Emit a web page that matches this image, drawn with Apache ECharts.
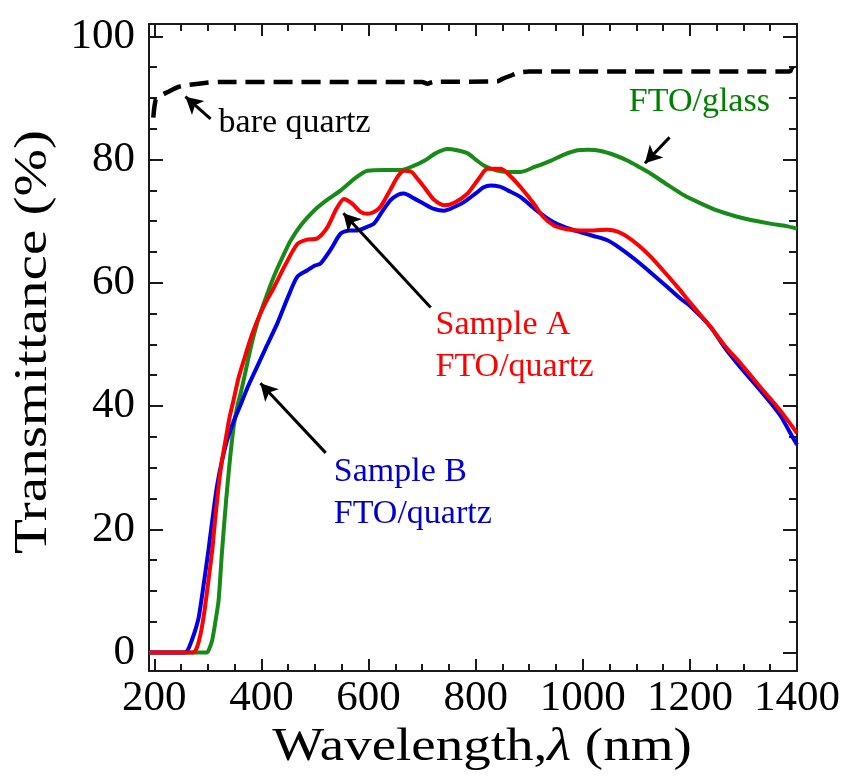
<!DOCTYPE html>
<html><head><meta charset="utf-8">
<script src="https://cdn.jsdelivr.net/npm/echarts@6/dist/echarts.min.js"></script>
<style>html,body{margin:0;padding:0;background:#fff}#c{width:846px;height:778px}</style>
</head><body><div id="c"></div>
<script>
// ---- tick values ----
const xTicksMajor = [200, 400, 600, 800, 1000, 1200, 1400];
const xTicksMinor = [250, 300, 350, 450, 500, 550, 650, 700, 750, 850, 900, 950, 1050, 1100, 1150, 1250, 1300, 1350];
const yTicksMajor = [0, 20, 40, 60, 80, 100];
const yTicksMinor = [5, 10, 15, 25, 30, 35, 45, 50, 55, 65, 70, 75, 85, 90, 95];

// ---- bare quartz (black dashed) ----
const quartzX = [198, 200, 203, 210, 226, 245, 261, 290, 320, 700, 710, 720, 840, 850, 865, 880, 900, 1385, 1392, 1400];
const quartzY = [86.8, 88.5, 89.8, 90.3, 91, 91.8, 92.1, 92.4, 92.6, 92.6, 92.3, 92.6, 92.7, 93.1, 93.6, 94.1, 94.3, 94.3, 94.6, 94.2];

// ---- FTO/glass (green) ----
const glassX = [190, 298, 302, 308, 314, 320, 326, 334, 341, 348, 355, 361, 370, 380, 392, 405, 423, 440, 454, 475, 498, 520, 548, 575, 598, 630, 660, 685, 704, 725, 747, 765, 785, 800, 816, 840, 860, 884, 910, 940, 965, 990, 1010, 1034, 1060, 1084, 1105, 1127, 1160, 1189, 1220, 1252, 1285, 1314, 1350, 1380, 1400];
const glassY = [0, 0, 0.5, 2, 5, 8.5, 16, 24.7, 31.2, 36.6, 40, 42, 45.5, 49.5, 53.5, 56.8, 61, 64.3, 66.8, 69.5, 71.7, 73.3, 75, 77, 78.2, 78.3, 78.3, 79, 79.8, 81, 81.7, 81.5, 81, 80, 79, 78.2, 78, 78, 78.8, 79.8, 80.8, 81.5, 81.6, 81.4, 80.7, 79.8, 78.8, 77.7, 75.8, 74.2, 72.9, 71.7, 70.8, 70.2, 69.6, 69.2, 68.8];

// ---- Sample A (red) ----
const sampleAX = [190, 272, 278, 285, 292, 300, 308, 314, 320, 326, 333, 340, 348, 357, 367, 380, 392, 405, 423, 445, 467, 485, 504, 523, 540, 554, 570, 585, 598, 610, 622, 640, 655, 666, 680, 692, 704, 722, 741, 760, 785, 805, 822, 847, 865, 884, 909, 925, 946, 970, 996, 1020, 1046, 1065, 1084, 1105, 1127, 1150, 1177, 1205, 1239, 1265, 1295, 1330, 1358, 1380, 1400];
const sampleAY = [0, 0, 0.5, 2.5, 5.8, 11, 16.6, 22, 27, 31, 34.5, 38, 41, 44.5, 47.4, 51, 53.8, 56.3, 59.2, 63, 66.3, 67, 67.2, 69, 72, 73.6, 72.8, 71.5, 71.2, 71.5, 72.3, 75, 77.3, 78.2, 78, 76.8, 75.5, 73.5, 72.6, 73, 74.5, 76.8, 78.5, 78.5, 77.3, 75.5, 72.8, 70.8, 69.3, 68.7, 68.5, 68.5, 68.6, 68.3, 67.4, 66, 64.2, 62, 59.3, 56.3, 52.8, 49.8, 46.9, 43.2, 40.4, 38, 35.6];

// ---- Sample B (blue) ----
const sampleBX = [190, 257, 263, 270, 277, 283, 292, 301, 309, 317, 326, 336, 348, 361, 375, 392, 410, 430, 450, 467, 485, 500, 510, 530, 548, 565, 579, 595, 610, 625, 641, 655, 666, 685, 704, 722, 741, 760, 778, 800, 815, 828, 845, 860, 884, 910, 940, 970, 996, 1020, 1046, 1070, 1096, 1125, 1158, 1180, 1202, 1239, 1264, 1295, 1326, 1350, 1370, 1385, 1400];
const sampleBY = [0, 0, 0.5, 2, 3.8, 5.8, 11, 16.6, 22, 27, 31, 34.5, 37.5, 40.2, 43.2, 46.4, 49.8, 53.5, 57.8, 61, 62, 62.8, 63.1, 65.5, 68, 68.5, 68.5, 69, 69.6, 71.5, 73.4, 74.3, 74.5, 73.7, 72.8, 72, 71.7, 72.3, 73.1, 74.5, 75.5, 75.8, 75.6, 75, 73.9, 72, 70.1, 68.9, 68.2, 67.6, 66.9, 65.6, 63.9, 61.8, 59.3, 57.6, 56.1, 52.8, 49.6, 46.2, 43.1, 40.6, 38.3, 36, 33.7];

// ---- annotations (data coordinates) ----
const arrows = [ // [tailX, tailY, tipX, tipY]
  [305, 86.6, 258, 90.2],
  [1162, 83.6, 1116, 79.4],
  [716, 56.0, 553, 71.3],
  [520, 32.4, 398, 43.7]
];
const labels = [ // text, x, y (left, middle), colour
  ['bare quartz', 320, 86.0, '#000000'],
  ['FTO/glass', 1086, 89.4, '#008000'],
  ['Sample A\nFTO/quartz', 725, 49.7, '#ff0000'],
  ['Sample B\nFTO/quartz', 535, 25.9, '#0000cc']
];

const FONT = '"Liberation Serif", "Times New Roman", serif';
const AX = '#1a1a1a';
const zip = (xs, ys) => xs.map((x, i) => [x, ys[i]]);

function xAx(pos, ticks, len, showLabel, showLine) {
  return {
    type: 'value', min: 190, max: 1400, position: pos, gridIndex: 0,
    axisLine: { show: showLine, onZero: false, lineStyle: { color: AX, width: 2 } },
    axisTick: { show: true, inside: true, length: len, customValues: ticks, lineStyle: { color: AX, width: 2 } },
    axisLabel: { show: showLabel, customValues: ticks, formatter: v => String(v), fontFamily: FONT, fontSize: 43, color: '#000', margin: 6 },
    splitLine: { show: false }
  };
}
function yAx(pos, ticks, len, showLabel, showLine) {
  return {
    type: 'value', min: -3, max: 102, position: pos, gridIndex: 0,
    axisLine: { show: showLine, onZero: false, lineStyle: { color: AX, width: 2 } },
    axisTick: { show: true, inside: true, length: len, customValues: ticks, lineStyle: { color: AX, width: 2 } },
    axisLabel: { show: showLabel, customValues: ticks, formatter: v => String(v), fontFamily: FONT, fontSize: 43, color: '#000', margin: 14 },
    splitLine: { show: false }
  };
}

const chart = echarts.init(document.getElementById('c'), null, { renderer: 'canvas' });

const lineSeries = (name, data, color, extra) => Object.assign({
  name, type: 'line', data, xAxisIndex: 0, yAxisIndex: 0,
  showSymbol: false, symbol: 'none', smooth: 0.25, silent: true, animation: false,
  lineStyle: { color, width: 4 }
}, extra || {});

chart.setOption({
  animation: false,
  backgroundColor: '#fff',
  grid: { left: 149, right: 49, top: 24, bottom: 107, containLabel: false, outerBoundsMode: 'none' },
  xAxis: [
    xAx('bottom', xTicksMajor, 12, true, true),
    xAx('bottom', xTicksMinor, 7, false, false),
    xAx('top', xTicksMajor, 12, false, true),
    xAx('top', xTicksMinor, 7, false, false)
  ],
  yAxis: [
    yAx('left', yTicksMajor, 14, true, true),
    yAx('left', yTicksMinor, 8, false, false),
    yAx('right', yTicksMajor, 14, false, true),
    yAx('right', yTicksMinor, 8, false, false)
  ],
  series: [
    lineSeries('FTO/glass', zip(glassX, glassY), '#178a17'),
    lineSeries('Sample B', zip(sampleBX, sampleBY), '#0000e6'),
    lineSeries('Sample A', zip(sampleAX, sampleAY), '#ff0000'),
    lineSeries('bare quartz', zip(quartzX, quartzY), '#000', {
      smooth: 0.2,
      lineStyle: { color: '#000', width: 4.5, type: [19, 9] },
      markLine: {
        silent: true, animation: false,
        symbol: ['none', 'arrow'], symbolSize: [14, 17],
        label: { show: false },
        lineStyle: { color: '#000', width: 3, type: 'solid' },
        emphasis: { disabled: true },
        data: arrows.map(a => [{ coord: [a[0], a[1]] }, { coord: [a[2], a[3]] }])
      }
    })
  ]
});

const gfx = labels.map(l => {
  const p = chart.convertToPixel({ seriesIndex: 0 }, [l[1], l[2]]);
  return {
    type: 'text', x: p[0], y: p[1], silent: true,
    style: { text: l[0], fill: l[3], fontFamily: FONT, fontSize: 34, lineHeight: 42, align: 'left', verticalAlign: 'middle' }
  };
});
gfx.push({
  type: 'text', x: 482, y: 748, silent: true, scaleX: 1.17,
  style: {
    text: '{a|Wavelength,}{b|λ}{a| (nm)}', align: 'center', verticalAlign: 'middle',
    rich: {
      a: { fontFamily: FONT, fontSize: 47, fill: '#000' },
      b: { fontFamily: FONT, fontSize: 47, fontStyle: 'italic', fill: '#000' }
    }
  }
});
gfx.push({
  type: 'text', x: 34, y: 342, rotation: Math.PI / 2, silent: true, scaleX: 1.24,
  style: { text: 'Transmittance (%)', fill: '#000', fontFamily: FONT, fontSize: 46, align: 'center', verticalAlign: 'middle' }
});
chart.setOption({ graphic: gfx });
</script>
</body></html>
